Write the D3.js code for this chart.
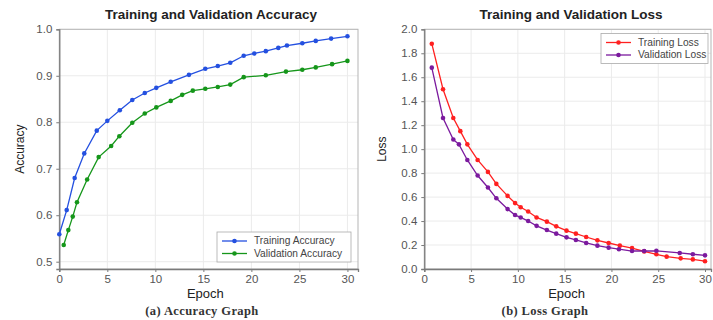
<!DOCTYPE html>
<html>
<head>
<meta charset="utf-8">
<script src="https://cdn.jsdelivr.net/npm/d3@7"></script>
<style>
  html, body { margin: 0; padding: 0; background: #fff; }
  #chart { width: 713px; height: 320px; }
  text { font-family: "Liberation Sans", Arial, sans-serif; }
</style>
</head>
<body>
<div id="chart"></div>
<script>
// accuracy panel
const accTrainEpochs = [0, 0.77, 1.6, 2.6, 3.9, 5.0, 6.3, 7.6, 8.9, 10.1, 11.6, 13.5, 15.2, 16.5, 17.8, 19.2, 20.3, 21.5, 22.8, 23.7, 25.3, 26.7, 28.3, 30.0];
const accTrain = [0.559, 0.611, 0.680, 0.733, 0.782, 0.803, 0.826, 0.848, 0.863, 0.874, 0.887, 0.902, 0.915, 0.921, 0.928, 0.943, 0.948, 0.953, 0.960, 0.965, 0.970, 0.975, 0.980, 0.985];
const accValEpochs = [0.46, 0.94, 1.4, 1.84, 2.9, 4.1, 5.4, 6.25, 7.6, 8.9, 10.1, 11.6, 12.8, 13.9, 15.2, 16.5, 17.8, 19.2, 21.5, 23.6, 25.3, 26.7, 28.4, 30.0];
const accVal = [0.536, 0.568, 0.597, 0.628, 0.677, 0.725, 0.749, 0.770, 0.799, 0.819, 0.832, 0.846, 0.859, 0.868, 0.872, 0.876, 0.881, 0.897, 0.901, 0.909, 0.913, 0.918, 0.925, 0.932];
const accYTicks = [0.5, 0.6, 0.7, 0.8, 0.9, 1.0];

// loss panel
const lossTrainEpochs = [0.8, 2.0, 3.1, 3.85, 4.6, 5.7, 6.8, 7.7, 8.9, 9.7, 10.3, 11.1, 12.0, 13.1, 14.1, 15.2, 16.2, 17.3, 18.5, 19.7, 20.9, 22.2, 23.5, 24.8, 25.9, 27.4, 28.7, 30.0];
const lossTrain = [1.88, 1.50, 1.26, 1.15, 1.04, 0.91, 0.81, 0.71, 0.61, 0.55, 0.515, 0.48, 0.43, 0.395, 0.356, 0.32, 0.295, 0.267, 0.239, 0.217, 0.195, 0.175, 0.147, 0.123, 0.103, 0.089, 0.080, 0.065];
const lossValEpochs = [0.8, 2.0, 3.1, 3.7, 4.6, 5.7, 6.8, 7.7, 8.9, 9.7, 10.3, 11.1, 12.0, 13.1, 14.1, 15.2, 16.2, 17.3, 18.5, 19.7, 20.8, 22.2, 23.5, 24.8, 27.3, 28.7, 30.0];
const lossVal = [1.68, 1.26, 1.08, 1.04, 0.91, 0.78, 0.68, 0.59, 0.50, 0.45, 0.43, 0.40, 0.36, 0.325, 0.295, 0.264, 0.242, 0.217, 0.195, 0.178, 0.165, 0.150, 0.150, 0.152, 0.134, 0.123, 0.114];
const lossYTicks = [0.0, 0.2, 0.4, 0.6, 0.8, 1.0, 1.2, 1.4, 1.6, 1.8, 2.0];

const epochTicks = [0, 5, 10, 15, 20, 25, 30];

const svg = d3.select("#chart").append("svg")
  .attr("width", 713)
  .attr("height", 320);

function drawPanel(p) {
  const g = svg.append("g");
  const x = d3.scaleLinear().domain(p.xDomain).range([p.left, p.right]);
  const y = d3.scaleLinear().domain(p.yDomain).range([p.bottom, p.top]);

  // grid
  g.append("g").selectAll("line").data(epochTicks).join("line")
    .attr("x1", d => x(d)).attr("x2", d => x(d))
    .attr("y1", p.top).attr("y2", p.bottom)
    .attr("stroke", "#ebebeb").attr("stroke-width", 1);
  g.append("g").selectAll("line").data(p.yTicks).join("line")
    .attr("x1", p.left).attr("x2", p.right)
    .attr("y1", d => y(d)).attr("y2", d => y(d))
    .attr("stroke", "#ebebeb").attr("stroke-width", 1);

  // frame
  g.append("rect")
    .attr("x", p.left).attr("y", p.top)
    .attr("width", p.right - p.left).attr("height", p.bottom - p.top)
    .attr("fill", "none").attr("stroke", "#b5b5b5").attr("stroke-width", 1);

  const xAxis = g.append("g")
    .attr("transform", `translate(0,${p.bottom})`)
    .call(d3.axisBottom(x).tickValues(epochTicks).tickSize(3).tickPadding(3));
  const yAxis = g.append("g")
    .attr("transform", `translate(${p.left},0)`)
    .call(d3.axisLeft(y).tickValues(p.yTicks).tickSize(3).tickPadding(4).tickFormat(d3.format(".1f")));
  [xAxis, yAxis].forEach(a => {
    a.select(".domain").attr("stroke", "#7a7a7a").attr("stroke-width", 1.3);
    a.selectAll(".tick line").attr("stroke", "#7a7a7a");
    a.selectAll(".tick text").attr("fill", "#555").style("font-size", "11.5px")
      .style("font-family", "'Liberation Sans', Arial, sans-serif");
  });

  // titles
  g.append("text")
    .attr("x", p.titleX).attr("y", 19)
    .attr("text-anchor", "middle")
    .style("font-size", "13.5px").style("font-weight", "bold").attr("fill", "#222")
    .text(p.title);
  g.append("text")
    .attr("x", (p.left + x(30)) / 2 + 2).attr("y", 298)
    .attr("text-anchor", "middle")
    .style("font-size", "13px").attr("fill", "#222")
    .text("Epoch");
  g.append("text")
    .attr("transform", `translate(${p.ylabelX},${(p.top + p.bottom) / 2}) rotate(-90)`)
    .attr("text-anchor", "middle")
    .style("font-size", "12px").attr("fill", "#222")
    .text(p.ylabel);
  g.append("text")
    .attr("x", p.captionX).attr("y", 315)
    .attr("text-anchor", "middle")
    .style("font-family", "'Liberation Serif', 'DejaVu Serif', serif")
    .style("font-size", "12.5px").style("font-weight", "bold").style("letter-spacing", "0.4px")
    .attr("fill", "#333")
    .text(p.caption);

  // series
  const line = d3.line().x(d => x(d[0])).y(d => y(d[1]));
  p.series.forEach(s => {
    const pts = d3.zip(s.epochs, s.values);
    g.append("path").datum(pts)
      .attr("fill", "none").attr("stroke", s.color).attr("stroke-width", 1.3)
      .attr("d", line);
    g.append("g").selectAll("circle").data(pts).join("circle")
      .attr("cx", d => x(d[0])).attr("cy", d => y(d[1]))
      .attr("r", 2.3).attr("fill", s.color);
  });

  // legend
  const lg = g.append("g").attr("transform", `translate(${p.legend.x},${p.legend.y})`);
  lg.append("rect")
    .attr("width", p.legend.w).attr("height", 30)
    .attr("fill", "#fff").attr("stroke", "#aaa").attr("stroke-width", 0.8);
  p.series.forEach((s, i) => {
    const yy = 9 + i * 12.5;
    lg.append("line").attr("x1", 5).attr("x2", 30).attr("y1", yy).attr("y2", yy)
      .attr("stroke", s.color).attr("stroke-width", 1.3);
    lg.append("circle").attr("cx", 17.5).attr("cy", yy).attr("r", 2.3).attr("fill", s.color);
    lg.append("text").attr("x", 37).attr("y", yy + 3.4)
      .style("font-size", "10.2px").attr("fill", "#444")
      .text(s.name);
  });
}

drawPanel({
  left: 59.3, right: 358, top: 29.3, bottom: 269,
  xDomain: [0, 31.1], yDomain: [0.4843, 1.0], yTicks: accYTicks,
  title: "Training and Validation Accuracy", titleX: 211,
  ylabel: "Accuracy", ylabelX: 24,
  caption: "(a) Accuracy Graph", captionX: 202,
  legend: { x: 217, y: 232, w: 134 },
  series: [
    { name: "Training Accuracy", epochs: accTrainEpochs, values: accTrain, color: "#2450e0" },
    { name: "Validation Accuracy", epochs: accValEpochs, values: accVal, color: "#15961a" }
  ]
});

drawPanel({
  left: 424.3, right: 711, top: 29.3, bottom: 269,
  xDomain: [0, 30.64], yDomain: [0, 2.0], yTicks: lossYTicks,
  title: "Training and Validation Loss", titleX: 571,
  ylabel: "Loss", ylabelX: 386,
  caption: "(b) Loss Graph", captionX: 545,
  legend: { x: 601, y: 33.5, w: 107 },
  series: [
    { name: "Training Loss", epochs: lossTrainEpochs, values: lossTrain, color: "#ff2020" },
    { name: "Validation Loss", epochs: lossValEpochs, values: lossVal, color: "#7b1a9e" }
  ]
});
</script>
</body>
</html>
